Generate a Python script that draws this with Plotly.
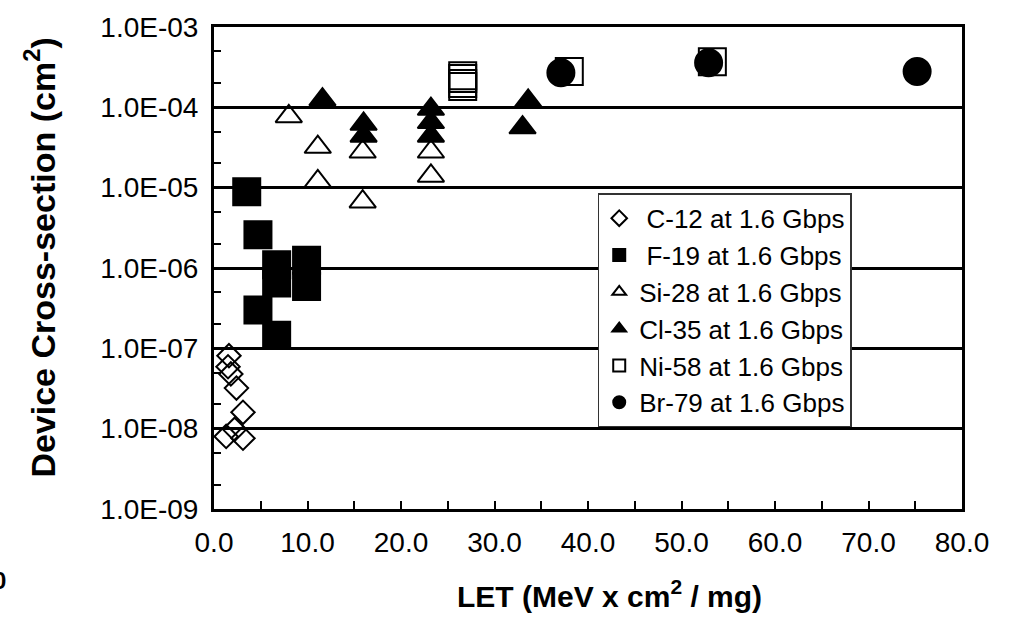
import plotly.graph_objects as go

# LET (MeV cm^2/mg) and device cross-section (cm^2) per ion species
c12_let = [1.6, 1.5, 1.8, 2.4, 3.1, 2.2, 3.1, 1.3]
c12_xs = [8.1e-08, 5.9e-08, 4.8e-08, 3.2e-08, 1.6e-08, 9.8e-09, 7.6e-09, 8.0e-09]

f19_let = [3.5, 4.7, 6.7, 6.7, 9.9, 9.9, 4.7, 6.7]
f19_xs = [8.9e-06, 2.6e-06, 1.1e-06, 6.5e-07, 1.25e-06, 5.9e-07, 3.0e-07, 1.45e-07]

si28_let = [8.0, 11.1, 11.1, 15.9, 15.9, 23.2, 23.2]
si28_xs = [7.7e-05, 3.2e-05, 1.2e-05, 2.8e-05, 6.7e-06, 2.8e-05, 1.4e-05]

cl35_let = [11.6, 16.0, 16.0, 23.2, 23.2, 23.2, 33.6, 33.0]
cl35_xs = [1.25e-04, 6.2e-05, 4.4e-05, 9.5e-05, 6.5e-05, 4.4e-05, 1.2e-04, 5.6e-05]

ni58_let = [26.6, 26.6, 26.6, 26.6, 38.0, 53.3]
ni58_xs = [2.48e-04, 2.28e-04, 1.98e-04, 1.82e-04, 2.8e-04, 3.7e-04]

br79_let = [37.1, 52.9, 75.2]
br79_xs = [2.7e-04, 3.6e-04, 2.8e-04]

y_tickvals = [1e-9, 1e-8, 1e-7, 1e-6, 1e-5, 1e-4, 1e-3]
y_ticktext = ["1.0E-09", "1.0E-08", "1.0E-07", "1.0E-06", "1.0E-05", "1.0E-04", "1.0E-03"]
x_tickvals = [0, 10, 20, 30, 40, 50, 60, 70, 80]
x_ticktext = ["0.0", "10.0", "20.0", "30.0", "40.0", "50.0", "60.0", "70.0", "80.0"]

FONT = "Liberation Sans, Arial, sans-serif"

series = [
    (" C-12 at 1.6 Gbps", c12_let, c12_xs, "diamond-open", 18),
    (" F-19 at 1.6 Gbps", f19_let, f19_xs, "square", 27),
    ("Si-28 at 1.6 Gbps", si28_let, si28_xs, "triangle-up-open", 23),
    ("Cl-35 at 1.6 Gbps", cl35_let, cl35_xs, "triangle-up", 23),
    ("Ni-58 at 1.6 Gbps", ni58_let, ni58_xs, "square-open", 27),
    ("Br-79 at 1.6 Gbps", br79_let, br79_xs, "circle", 27),
]

fig = go.Figure()
for name, xs, ys, sym, size in series:
    fig.add_trace(go.Scatter(
        x=xs, y=ys, mode="markers", name=name,
        marker=dict(symbol=sym, size=size, color="black",
                    line=dict(color="black", width=2)),
    ))

fig.update_layout(
    width=1014, height=617,
    margin=dict(l=214, r=52, t=22, b=108),
    paper_bgcolor="white", plot_bgcolor="white",
    font=dict(family=FONT, size=28, color="black"),
    showlegend=True,
    legend=dict(
        x=0.513, y=0.655, xanchor="left", yanchor="top",
        bgcolor="white", bordercolor="#333333", borderwidth=1.5,
        font=dict(size=26, family=FONT, color="black"),
        itemsizing="constant", tracegroupgap=0,
    ),
    xaxis=dict(
        range=[0, 80], tickvals=x_tickvals, ticktext=x_ticktext,
        ticks="inside", ticklen=8, tickwidth=2, tickcolor="black",
        minor=dict(dtick=5, ticks="inside", ticklen=8, tickwidth=2, tickcolor="black", showgrid=False),
        showline=True, linecolor="black", linewidth=3, mirror=True,
        showgrid=False, zeroline=False, ticklabelstandoff=6,
        tickfont=dict(size=28),
    ),
    yaxis=dict(
        type="log", range=[-9, -3], tickvals=y_tickvals, ticktext=y_ticktext,
        ticks="inside", ticklen=10, tickwidth=2, tickcolor="black",
        minor=dict(ticks="inside", ticklen=7, tickwidth=2, tickcolor="black", showgrid=False),
        showline=True, linecolor="black", linewidth=3, mirror=True,
        showgrid=True, gridcolor="black", gridwidth=2.5, zeroline=False,
        ticklabelstandoff=7,
        tickfont=dict(size=28),
    ),
)

# Axis titles
fig.add_annotation(
    text="<b>LET (MeV x cm<sup>2</sup> / mg)</b>", xref="paper", yref="paper",
    x=(609 - 214) / 748, y=(509 - 595) / 487, xanchor="center", yanchor="middle",
    showarrow=False, font=dict(size=30, family=FONT, color="black"),
)
fig.add_annotation(
    text="<b>Device Cross-section (cm<sup>2</sup>)</b>", xref="paper", yref="paper",
    x=(40 - 214) / 748, y=(509 - 255) / 487, xanchor="center", yanchor="middle",
    textangle=-90, showarrow=False, font=dict(size=34, family=FONT, color="black"),
)

fig.add_annotation(
    text="<b>0</b>", xref="paper", yref="paper",
    x=(8 - 214) / 748, y=(509 - 581) / 487, xanchor="right", yanchor="middle",
    showarrow=False, font=dict(size=24, family=FONT, color="black"),
)

fig.write_html("out.html")
